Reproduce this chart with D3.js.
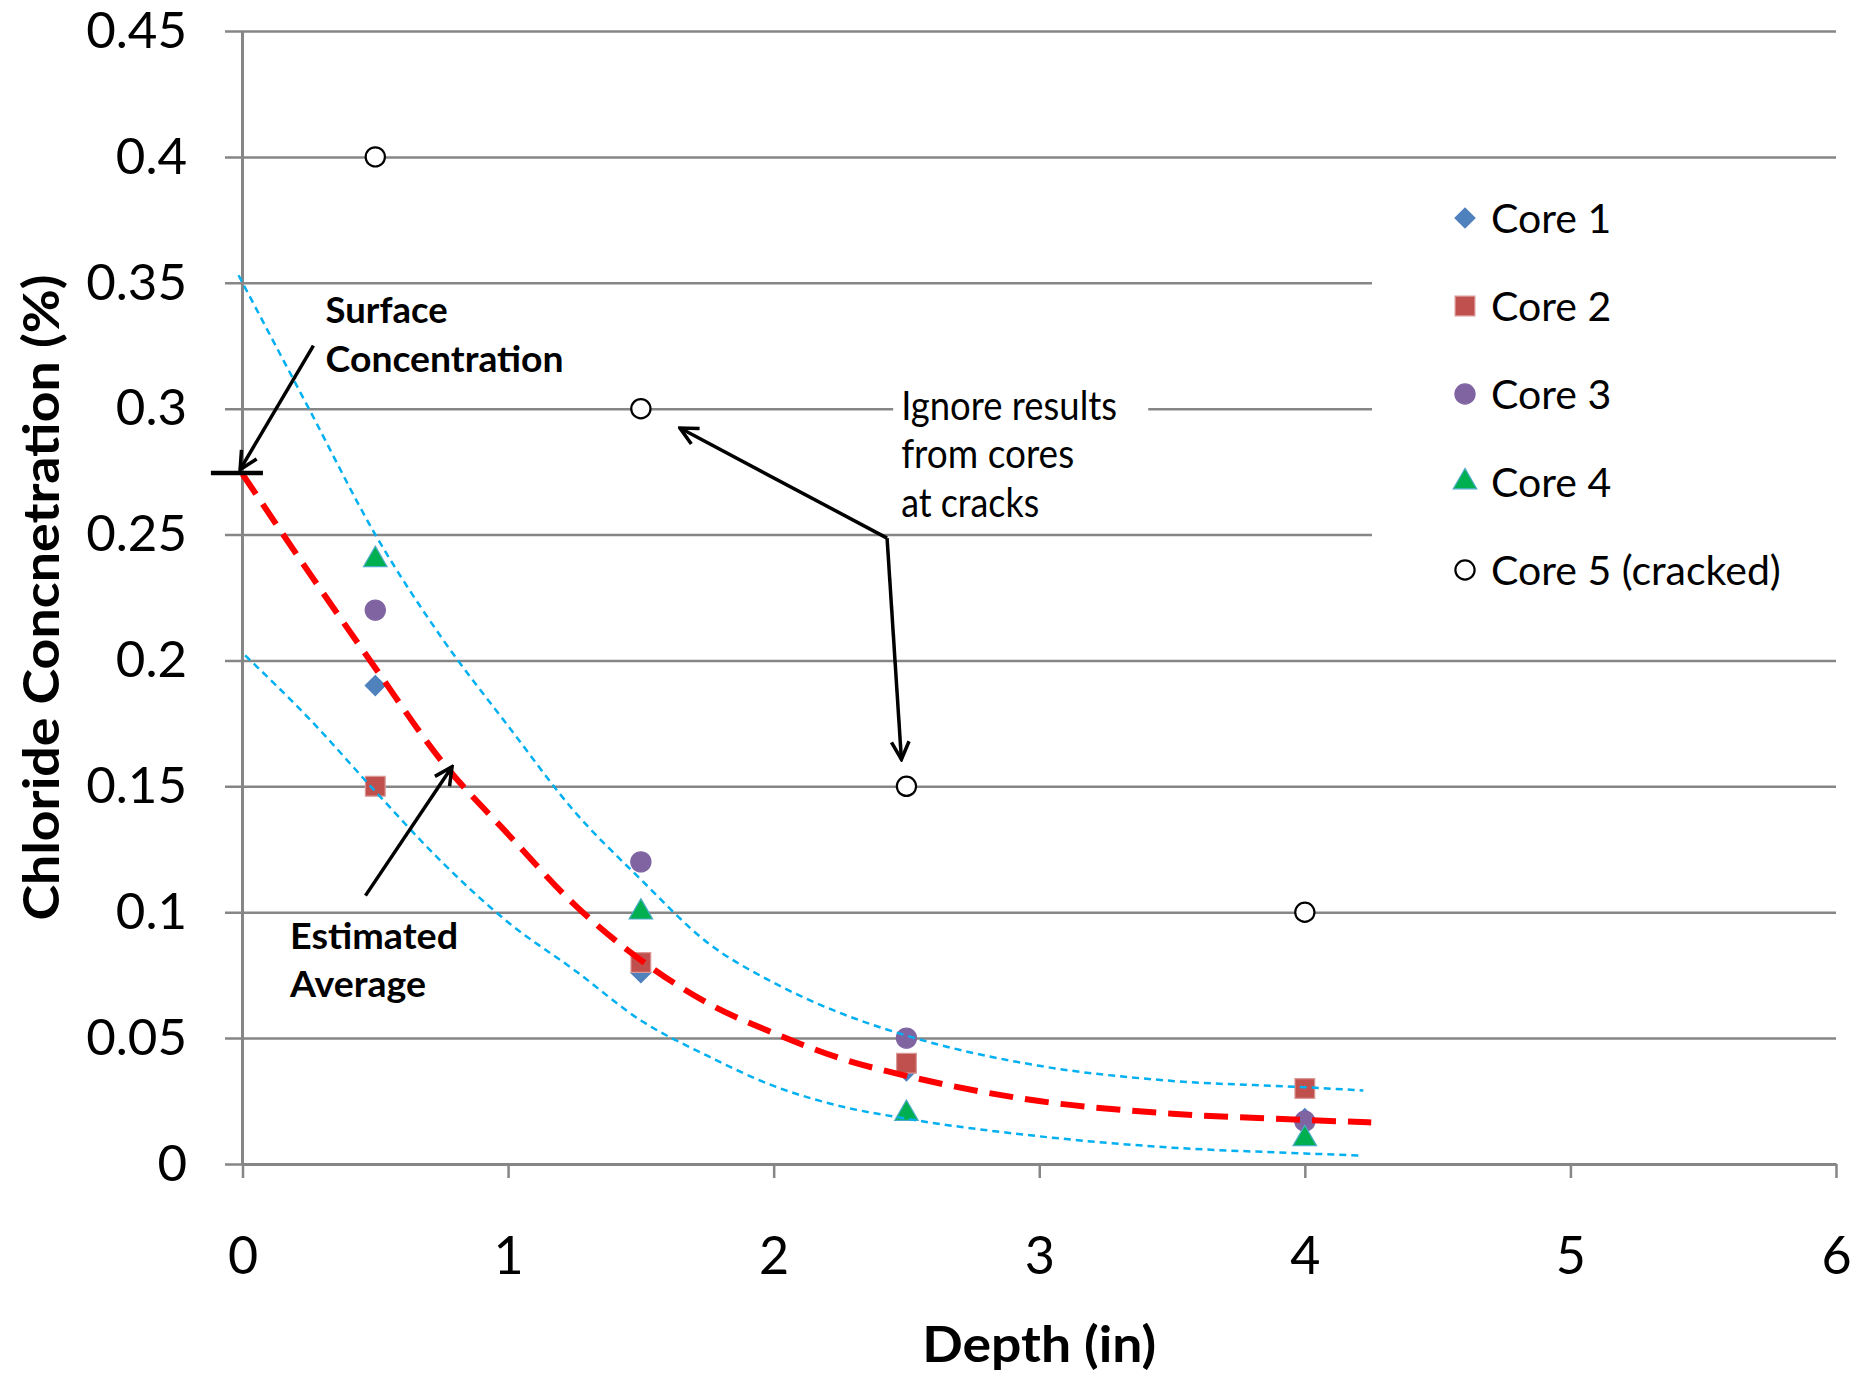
<!DOCTYPE html>
<html>
<head>
<meta charset="utf-8">
<script src="https://cdn.jsdelivr.net/npm/d3@7"></script>
<style>
body { margin: 0; background: #fff; }
text { font-family: Lato, "Open Sans", sans-serif; fill: #000; }
</style>
</head>
<body>
<div id="chart"></div>
<script>
// measured core data (depth in inches, chloride %)
const depths = [0.5, 1.5, 2.5, 4];
const core1 = [0.19, 0.076, 0.037, 0.018];
const core2 = [0.15, 0.08, 0.04, 0.03];
const core3 = [0.22, 0.12, 0.05, 0.017];
const core4 = [0.24, 0.10, 0.02, 0.01];
const core5 = [0.40, 0.30, 0.15, 0.10];
const seriesNames = ["Core 1", "Core 2", "Core 3", "Core 4", "Core 5 (cracked)"];

// hand drawn curves
const avgDepths = [0, 0.25, 0.5, 0.75, 1, 1.25, 1.5, 1.75, 2, 2.25, 2.5, 3, 3.5, 4, 4.25];
const avgConc = [0.274, 0.235, 0.197, 0.160, 0.131, 0.103, 0.081, 0.064, 0.052, 0.042, 0.035, 0.025, 0.020, 0.0175, 0.0165];
const upperDepths = [-0.015, 0.25, 0.5, 0.75, 1, 1.25, 1.5, 1.75, 2, 2.25, 2.5, 3, 3.5, 4, 4.22];
const upperConc = [0.353, 0.300, 0.250, 0.209, 0.174, 0.140, 0.113, 0.088, 0.072, 0.060, 0.051, 0.039, 0.033, 0.0305, 0.0292];
const lowerDepths = [0.01, 0.25, 0.5, 0.75, 1, 1.25, 1.5, 1.75, 2, 2.25, 2.5, 3, 3.5, 4, 4.22];
const lowerConc = [0.202, 0.177, 0.148, 0.120, 0.096, 0.077, 0.057, 0.043, 0.031, 0.023, 0.018, 0.011, 0.0065, 0.0042, 0.0033];

const xTicks = [0, 1, 2, 3, 4, 5, 6];
const xTickLabels = ["0", "1", "2", "3", "4", "5", "6"];
const yTicks = [0, 0.05, 0.1, 0.15, 0.2, 0.25, 0.3, 0.35, 0.4, 0.45];
const yTickLabels = ["0", "0.05", "0.1", "0.15", "0.2", "0.25", "0.3", "0.35", "0.4", "0.45"];

const width = 1855, height = 1378;
const plot = {left: 242.5, right: 1836, top: 31, bottom: 1164};
const gridColor = "#868686";

const svg = d3.select("#chart")
  .append("svg")
  .attr("width", width)
  .attr("height", height);

const xScale = d3.scaleLinear().domain([0, 6]).range([plot.left, plot.right]);
const yScale = d3.scaleLinear().domain([0, 0.45]).range([plot.bottom, plot.top]);

// arrow head
svg.append("defs").append("marker")
  .attr("id", "arrow")
  .attr("viewBox", "0 0 20 20")
  .attr("refX", 18).attr("refY", 10)
  .attr("markerWidth", 22).attr("markerHeight", 22)
  .attr("markerUnits", "userSpaceOnUse")
  .attr("orient", "auto")
  .append("path")
  .attr("d", "M2,2 L18,10 L2,18")
  .attr("fill", "none")
  .attr("stroke", "#000")
  .attr("stroke-width", 3.2);

// horizontal gridlines + y labels
const gridAxis = d3.axisLeft(yScale)
  .tickValues(yTicks)
  .tickFormat((d, i) => yTickLabels[i])
  .tickSize(-(plot.right - 225))
  .tickPadding(38);
const gy = svg.append("g")
  .attr("transform", "translate(225,0)")
  .call(gridAxis);
gy.select(".domain").remove();
gy.selectAll(".tick line").attr("stroke", gridColor).attr("stroke-width", 2.5);
gy.selectAll(".tick text").attr("font-size", 51).attr("font-family", "Lato");

// x axis
const bottomAxis = d3.axisBottom(xScale)
  .tickValues(xTicks)
  .tickFormat((d, i) => xTickLabels[i])
  .tickSize(14)
  .tickSizeOuter(0)
  .tickPadding(59);
const gx = svg.append("g")
  .attr("transform", `translate(0, ${plot.bottom})`)
  .call(bottomAxis);
gx.select(".domain").attr("stroke", gridColor).attr("stroke-width", 3);
gx.selectAll(".tick line").attr("stroke", gridColor).attr("stroke-width", 2.5);
gx.selectAll(".tick text").attr("font-size", 52).attr("font-family", "Lato");

// y axis line
svg.append("line")
  .attr("x1", xScale(0)).attr("x2", xScale(0))
  .attr("y1", plot.top).attr("y2", plot.bottom)
  .attr("stroke", gridColor).attr("stroke-width", 3);

// white boxes behind legend and the "ignore" note
svg.append("rect")
  .attr("x", 1372).attr("y", 190).attr("width", 470).attr("height", 430)
  .attr("fill", "#fff");
svg.append("rect")
  .attr("x", xScale(2.45)).attr("y", yScale(0.3115))
  .attr("width", 255).attr("height", 145)
  .attr("fill", "#fff");

// markers
const series = [
  {name: seriesNames[0], values: core1, type: "diamond", fill: "#4F81BD", stroke: "#4F81BD"},
  {name: seriesNames[1], values: core2, type: "square", fill: "#C0504D", stroke: "#D99795"},
  {name: seriesNames[2], values: core3, type: "circle", fill: "#8064A2", stroke: "#8064A2"},
  {name: seriesNames[3], values: core4, type: "triangle", fill: "#00B050", stroke: "#4BACC6"},
  {name: seriesNames[4], values: core5, type: "open", fill: "#fff", stroke: "#000"}
];

const symbolPath = type => {
  if (type === "diamond") return d3.symbol(d3.symbolSquare, 200)();
  if (type === "square") return d3.symbol(d3.symbolSquare, 390)();
  if (type === "circle") return d3.symbol(d3.symbolCircle, 320)();
  if (type === "triangle") return d3.symbol(d3.symbolTriangle, 240)();
  return d3.symbol(d3.symbolCircle, 290)();
};
const rot = type => type === "diamond" ? " rotate(45)" : "";

series.forEach(s => {
  svg.append("g")
    .selectAll("path")
    .data(s.values)
    .join("path")
      .attr("d", symbolPath(s.type))
      .attr("transform", (d, i) => `translate(${xScale(depths[i])}, ${yScale(d)})${rot(s.type)}`)
      .attr("fill", s.fill)
      .attr("stroke", s.stroke)
      .attr("stroke-width", s.type === "open" ? 2.2 : 1.2);
});

// curves
const curveLine = d3.line()
  .x(d => xScale(d[0]))
  .y(d => yScale(d[1]))
  .curve(d3.curveMonotoneX);

svg.append("path")
  .attr("d", curveLine(d3.zip(upperDepths, upperConc)))
  .attr("fill", "none").attr("stroke", "#00B0F0")
  .attr("stroke-width", 2.5).attr("stroke-dasharray", "7,5");
svg.append("path")
  .attr("d", curveLine(d3.zip(lowerDepths, lowerConc)))
  .attr("fill", "none").attr("stroke", "#00B0F0")
  .attr("stroke-width", 2.5).attr("stroke-dasharray", "7,5");
svg.append("path")
  .attr("d", curveLine(d3.zip(avgDepths, avgConc)))
  .attr("fill", "none").attr("stroke", "#FF0000")
  .attr("stroke-width", 6).attr("stroke-dasharray", "24,12");

// surface concentration mark
svg.append("line")
  .attr("x1", xScale(-0.119)).attr("x2", xScale(0.077))
  .attr("y1", yScale(0.2744)).attr("y2", yScale(0.2744))
  .attr("stroke", "#000").attr("stroke-width", 4.5);

// annotation arrows
const arrow = (x1, y1, x2, y2) => svg.append("line")
  .attr("x1", xScale(x1)).attr("y1", yScale(y1))
  .attr("x2", xScale(x2)).attr("y2", yScale(y2))
  .attr("stroke", "#000").attr("stroke-width", 3.5)
  .attr("marker-end", "url(#arrow)");
arrow(0.267, 0.325, -0.009, 0.2758);
arrow(0.463, 0.1066, 0.789, 0.1578);
arrow(2.427, 0.2486, 1.647, 0.2923);
arrow(2.427, 0.2486, 2.481, 0.1607);

// annotation texts
const note = (str, x, y, size, bold, len) => svg.append("text")
  .text(str)
  .attr("x", xScale(x)).attr("y", yScale(y))
  .attr("font-size", size)
  .attr("font-weight", bold ? "bold" : "normal")
  .attr("textLength", len)
  .attr("lengthAdjust", "spacingAndGlyphs");
note("Surface", 0.313, 0.3342, 36, true, 122);
note("Concentration", 0.313, 0.3146, 36, true, 238);
note("Estimated", 0.179, 0.0854, 36, true, 168);
note("Average", 0.179, 0.0663, 36, true, 136);
note("Ignore results", 2.48, 0.2955, 41, false, 216);
note("from cores", 2.48, 0.2764, 41, false, 173);
note("at cracks", 2.48, 0.2570, 41, false, 138);

// legend
const legend = svg.append("g").attr("transform", "translate(1465, 218)");
const legendRows = legend.selectAll("g")
  .data(series)
  .join("g")
  .attr("transform", (d, i) => `translate(0, ${i * 88})`);
legendRows.append("path")
  .attr("d", d => symbolPath(d.type))
  .attr("transform", d => rot(d.type).trim())
  .attr("fill", d => d.fill)
  .attr("stroke", d => d.stroke)
  .attr("stroke-width", d => d.type === "open" ? 2.2 : 1.2);
legendRows.append("text")
  .text(d => d.name)
  .attr("x", 26)
  .attr("dy", "0.36em")
  .attr("font-size", 41);

// axis titles
svg.append("text")
  .text("Depth (in)")
  .attr("x", xScale(3)).attr("y", 1362)
  .attr("text-anchor", "middle")
  .attr("font-size", 50).attr("font-weight", "bold")
  .attr("textLength", 234).attr("lengthAdjust", "spacingAndGlyphs");
svg.append("text")
  .text("Chloride Concnetration (%)")
  .attr("transform", "translate(59, 597.5) rotate(-90)")
  .attr("text-anchor", "middle")
  .attr("font-size", 50).attr("font-weight", "bold")
  .attr("textLength", 646).attr("lengthAdjust", "spacingAndGlyphs");
</script>
</body>
</html>
